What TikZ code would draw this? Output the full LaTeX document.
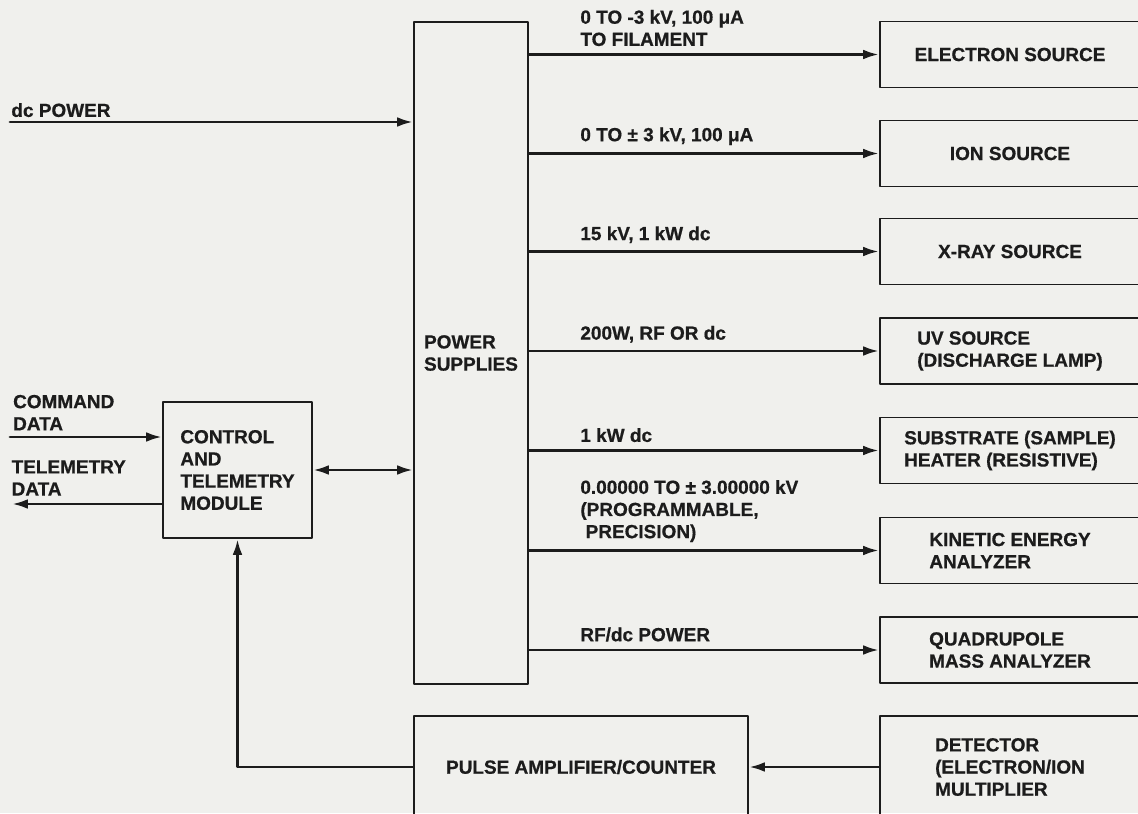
\documentclass[tikz,border=0pt]{standalone}
\usepackage{fontspec}
\setmainfont{Liberation Sans}[FakeBold=0.7]
\usepackage{tikz}
\usetikzlibrary{arrows.meta,positioning}
\definecolor{paper}{RGB}{240,240,237}
\definecolor{ink}{RGB}{28,28,28}
\newcommand{\lbl}{\fontsize{10.8}{12.6}\selectfont\bfseries}

\begin{document}
\begin{tikzpicture}[line cap=round,line join=round,
  box/.style={draw=ink,line width=1.1pt,inner sep=0pt,minimum height=1.32cm,text=ink,font=\lbl},
  srcbox/.style={box,minimum width=5.2cm,align=left},
  feed/.style={draw=ink,line width=1.6pt,-{Latex[length=9pt,width=5.5pt]}},
  tag/.style={anchor=south west,align=left,inner sep=0pt,text=ink,font=\lbl,yshift=4pt}]
\path[use as bounding box,fill=paper] (0,0) rectangle (22.76,-16.26);
% central supply block
\node[box,minimum width=2.28cm,minimum height=13.24cm,align=left] (ps) at (9.42,-7.06) {POWER\\SUPPLIES};
% sources and analyzers
\node[srcbox] (el) at (20.2,-1.09) {ELECTRON SOURCE};
\node[srcbox] (ion) at (20.2,-3.07) {ION SOURCE};
\node[srcbox] (xr) at (20.2,-5.03) {X-RAY SOURCE};
\node[srcbox] (uv) at (20.2,-7.02) {UV SOURCE\\(DISCHARGE LAMP)};
\node[srcbox] (sub) at (20.2,-9.01) {SUBSTRATE (SAMPLE)\\HEATER (RESISTIVE)};
\node[srcbox] (kea) at (20.2,-11.01) {KINETIC ENERGY\\ANALYZER};
\node[srcbox] (qma) at (20.2,-13.0) {QUADRUPOLE\\MASS ANALYZER};
\node[srcbox,minimum height=2.04cm] (det) at (20.2,-15.34) {DETECTOR\\(ELECTRON/ION\\MULTIPLIER};
\node[box,minimum width=6.68cm,minimum height=2.04cm] (pa) at (11.62,-15.34) {PULSE AMPLIFIER/COUNTER};
\node[box,minimum width=2.98cm,minimum height=2.72cm,align=left] (ctl) at (4.75,-9.4) {CONTROL\\AND\\TELEMETRY\\MODULE};
% supply lines
\draw[feed] (ps.east |- el.west) -- node[tag,at start,xshift=1cm] (tEl) {0 TO -3 kV, 100 μA\\TO FILAMENT} (el.west);
\draw[feed] (ps.east |- ion.west) -- node[tag,at start,xshift=1cm] (tIon) {0 TO ± 3 kV, 100 μA} (ion.west);
\draw[feed] (ps.east |- xr.west) -- node[tag,at start,xshift=1cm] (tXr) {15 kV, 1 kW dc} (xr.west);
\draw[feed] (ps.east |- uv.west) -- node[tag,at start,xshift=1cm] (tUv) {200W, RF OR dc} (uv.west);
\draw[feed] (ps.east |- sub.west) -- node[tag,at start,xshift=1cm] (tSub) {1 kW dc} (sub.west);
\draw[feed] (ps.east |- kea.west) -- node[tag,at start,xshift=1cm] (tKea) {0.00000 TO ± 3.00000 kV\\(PROGRAMMABLE,\\\ PRECISION)} (kea.west);
\draw[feed] (ps.east |- qma.west) -- node[tag,at start,xshift=1cm] (tQma) {RF/dc POWER} (qma.west);
% inputs and outputs on the left
\coordinate (dcin) at (0.2,-2.44);
\coordinate (cmdin) at (0.2,-8.74);
\coordinate (tlmout) at (0.24,-10.08);
\draw[feed] (dcin) -- node[tag,at start,yshift=-2pt] (tDc) {dc POWER} (ps.west |- dcin);
\draw[feed] (cmdin) -- node[tag,at start,xshift=1pt,yshift=-1pt] (tCmd) {COMMAND\\DATA} (ctl.west |- cmdin);
\draw[feed] (ctl.west |- tlmout) -- (tlmout) node[tag,xshift=-1pt] (tTlm) {TELEMETRY\\DATA};
\draw[feed,{Latex[length=9pt,width=5.5pt]}-{Latex[length=9pt,width=5.5pt]}] (ctl.east) -- (ctl.east -| ps.west);
% detector chain
\draw[feed] (det.west) -- (pa.east);
\draw[feed] (pa.west) -| (ctl.south);
\end{tikzpicture}
\end{document}
